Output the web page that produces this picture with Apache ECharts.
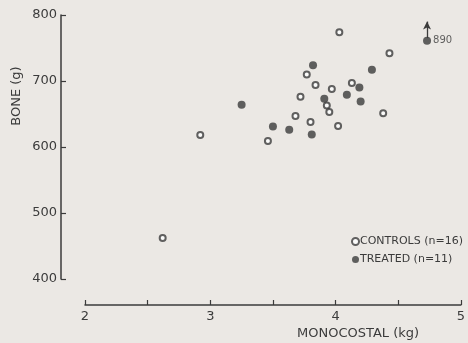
<!DOCTYPE html>
<html>
<head>
<meta charset="utf-8">
<script src="https://cdn.jsdelivr.net/npm/echarts@6/dist/echarts.min.js"></script>
<style>
html,body{margin:0;padding:0;background:#ebe8e4;}
#c{width:468px;height:343px;}
</style>
</head>
<body>
<div id="c"></div>
<script>
// Monocostal strength (kg) vs bone weight (g)
const controlsX = [2.62, 2.92, 3.46, 3.68, 3.72, 3.77, 3.80, 3.84, 3.93, 3.95, 3.97, 4.02, 4.03, 4.13, 4.38, 4.43];
const controlsY = [462, 618, 609, 647, 676, 710, 638, 694, 663, 653, 688, 632, 774, 697, 651, 742];
const treatedX = [3.25, 3.50, 3.63, 3.81, 3.82, 3.91, 4.09, 4.19, 4.20, 4.29];
const treatedY = [664, 631, 626, 619, 724, 673, 679, 690, 669, 717];
// one treated animal is off the scale (890 g), drawn at the top with an arrow
const offScaleX = [4.73];
const offScaleValue = [890];
const offScaleShownAt = 761;
const xTicks = [2, 3, 4, 5];
const yTicks = [400, 500, 600, 700, 800];
const seriesNames = ['CONTROLS (n=16)', 'TREATED (n=11)'];

const ink = '#3b3b3b';
const font = 'DejaVu Sans';

const chart = echarts.init(document.getElementById('c'), null, {renderer: 'canvas'});
chart.setOption({
  backgroundColor: '#ebe8e4',
  animation: false,
  grid: {left: 85, top: 15, width: 377, height: 264},
  xAxis: {
    type: 'value', min: xTicks[0], max: xTicks[xTicks.length - 1], interval: 0.5,
    offset: 26,
    axisLine: {lineStyle: {color: ink, width: 1.5}},
    axisTick: {inside: true, length: 5, lineStyle: {color: ink, width: 1.2}},
    axisLabel: {
      color: ink, fontFamily: font, fontSize: 13, margin: 5,
      formatter: v => xTicks.indexOf(v) >= 0 ? String(v) : ''
    },
    splitLine: {show: false}
  },
  yAxis: {
    type: 'value', min: yTicks[0], max: yTicks[yTicks.length - 1], interval: 100,
    offset: 24,
    axisLine: {show: true, lineStyle: {color: ink, width: 1.5}},
    axisTick: {show: true, inside: true, length: 5, lineStyle: {color: ink, width: 1.2}},
    axisLabel: {color: ink, fontFamily: font, fontSize: 13, margin: 4},
    splitLine: {show: false}
  },
  legend: {
    orient: 'vertical', left: 346, top: 231, itemGap: 7,
    itemWidth: 7, itemHeight: 7,
    textStyle: {color: ink, fontFamily: font, fontSize: 11, padding: [0, 0, 0, -4]},
    data: seriesNames
  },
  graphic: [
    {type: 'text', left: 297, top: 327,
     style: {text: 'MONOCOSTAL (kg)', fill: ink, font: '13px "DejaVu Sans"'}},
    {type: 'text', rotation: Math.PI / 2, position: [17, 96],
     style: {text: 'BONE (g)', fill: ink, font: '13px "DejaVu Sans"', align: 'center', verticalAlign: 'middle'}}
  ],
  series: [
    {
      name: seriesNames[0], type: 'scatter', symbol: 'emptyCircle', symbolSize: 6,
      itemStyle: {color: ink, borderColor: ink, borderWidth: 1.8},
      data: controlsX.map((x, i) => [x, controlsY[i]])
    },
    {
      name: seriesNames[1], type: 'scatter', symbol: 'circle', symbolSize: 8,
      itemStyle: {color: ink},
      data: treatedX.map((x, i) => [x, treatedY[i]])
    },
    {
      name: seriesNames[1], type: 'scatter', symbol: 'circle', symbolSize: 8,
      itemStyle: {color: ink},
      label: {show: true, position: 'right', distance: 2, color: ink, fontFamily: font, fontSize: 10,
              formatter: p => String(offScaleValue[p.dataIndex])},
      data: offScaleX.map(x => [x, offScaleShownAt]),
      markLine: {
        silent: true, symbol: ['none', 'arrow'], symbolSize: [6, 8],
        lineStyle: {color: ink, width: 1.3, type: 'solid'},
        label: {show: false},
        data: offScaleX.map(x => [{coord: [x, offScaleShownAt + 4]}, {coord: [x, offScaleShownAt + 29]}])
      }
    }
  ]
});
</script>
</body>
</html>
